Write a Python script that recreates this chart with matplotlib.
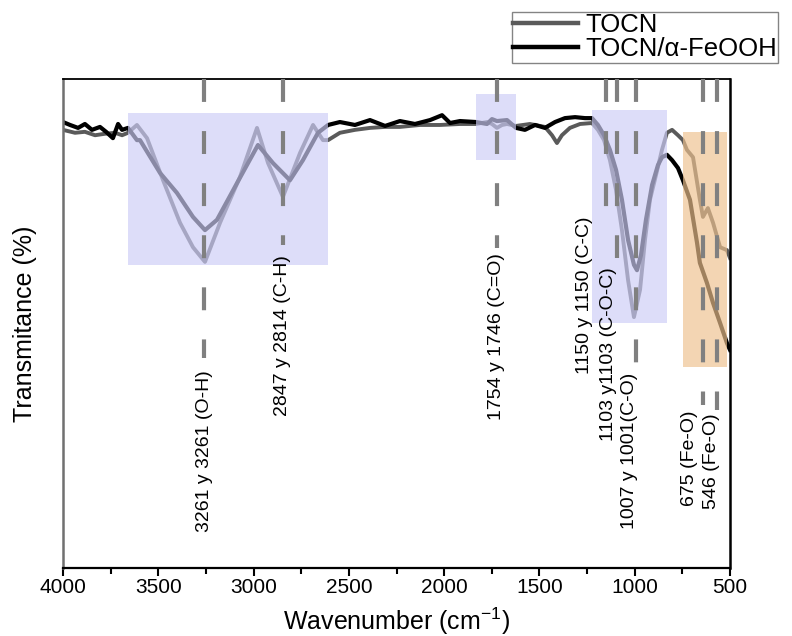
import matplotlib
matplotlib.use("Agg")
import matplotlib.pyplot as plt
from matplotlib.patches import Rectangle

plt.rcParams['font.family'] = ['Liberation Sans', 'DejaVu Sans']
plt.rcParams['mathtext.fontset'] = 'custom'
plt.rcParams['mathtext.rm'] = 'Liberation Sans'
plt.rcParams['mathtext.it'] = 'Liberation Sans'

# ---- data (wavenumber cm-1, transmittance in arbitrary %) ----
wn_tocn = [4000, 3937, 3885, 3832, 3780, 3727, 3690, 3659, 3612, 3559, 3475, 3386, 3318, 3255,
           3176, 3071, 2982, 2924, 2846, 2756, 2688, 2636, 2609, 2547, 2468, 2389, 2310, 2232,
           2127, 2022, 1917, 1833, 1775, 1749, 1723, 1696, 1670, 1623, 1550, 1471, 1434, 1408,
           1382, 1340, 1287, 1224, 1193, 1161, 1130, 1098, 1067, 1035, 1004, 972, 946, 920, 888,
           857, 831, 804, 773, 747, 726, 694, 658, 642, 616, 589, 552, 516, 500]
t_tocn = [89.6, 89.0, 89.2, 88.5, 88.8, 89.0, 88.5, 89.0, 90.6, 87.9, 79.3, 70.6, 65.6, 62.6,
          70.6, 80.0, 90.0, 82.8, 75.9, 84.9, 90.6, 87.5, 87.5, 89.0, 89.6, 90.0, 90.2, 90.2,
          90.6, 90.6, 90.8, 90.8, 91.2, 90.8, 90.0, 90.6, 90.8, 90.4, 90.8, 90.2, 88.5, 86.9,
          88.5, 90.0, 90.8, 91.0, 89.6, 87.5, 83.4, 77.3, 69.1, 58.9, 51.3, 56.9, 67.1, 75.3, 80.4,
          85.5, 89.0, 89.6, 88.5, 87.5, 85.5, 84.0, 75.3, 71.8, 73.6, 70.6, 65.6, 65.0, 63.4]

wn_feooh = [4000, 3963, 3921, 3885, 3848, 3806, 3774, 3738, 3711, 3690, 3659, 3612, 3596, 3491,
            3402, 3318, 3255, 3192, 3087, 2977, 2898, 2809, 2741, 2662, 2609, 2547, 2468, 2389,
            2310, 2232, 2153, 2074, 2011, 1969, 1917, 1833, 1775, 1749, 1723, 1670, 1623, 1576,
            1523, 1471, 1418, 1366, 1313, 1261, 1224, 1193, 1161, 1130, 1098, 1067, 1035, 1004,
            988, 967, 941, 909, 878, 857, 831, 804, 773, 747, 710, 673, 658, 621, 589, 552, 516, 500]
t_feooh = [91.2, 90.6, 90.0, 90.8, 89.6, 90.2, 89.2, 87.9, 90.8, 89.6, 90.0, 87.5, 87.5, 80.8,
           76.7, 71.8, 69.1, 71.2, 78.7, 86.5, 82.8, 79.3, 83.4, 89.0, 90.6, 91.2, 90.6, 91.6,
           90.4, 91.4, 90.8, 91.6, 92.6, 91.0, 91.4, 91.2, 90.8, 91.8, 91.4, 91.6, 90.0, 89.6,
           90.6, 90.0, 91.2, 92.0, 92.2, 92.0, 92.0, 90.6, 88.5, 85.5, 81.4, 75.3, 67.1, 62.0,
           60.9, 64.0, 71.2, 78.3, 82.4, 84.0, 84.5, 83.4, 81.8, 79.3, 75.3, 66.5, 62.4, 58.3,
           54.2, 50.1, 46.0, 44.6]

series_labels = ['TOCN', 'TOCN/α-FeOOH']

# highlighted regions: (wn_high, wn_low, t_low, t_high)
box_wn_high = [3659, 1833, 1224, 747]
box_wn_low = [2609, 1623, 831, 516]
box_t_low = [62.0, 83.4, 50.1, 41.1]
box_t_high = [93.0, 96.9, 93.7, 89.2]
box_kind = ['blue', 'blue', 'blue', 'orange']

# band marker lines: position and where the dashes stop
band_wn = [3261, 2846, 1723, 1150, 1095, 995, 640, 568]
band_end_t = [42.9, 66.1, 65.5, 73.2, 63.4, 41.9, 33.3, 32.3]

# band labels
label_text = ['3261 y 3261 (O-H)', '2847 y 2814 (C-H)', '1754 y 1746 (C=O)',
              '1150 y 1150 (C-C)', '1103 y1103 (C-O-C)', '1007 y 1001(C-O)',
              '675 (Fe-O)', '546 (Fe-O)']
label_wn = [3255, 2846, 1723, 1266, 1135, 1025, 715, 595]
label_top_t = [40.5, 64.0, 64.4, 71.8, 61.6, 39.9, 32.3, 31.7]

xticks = [4000, 3500, 3000, 2500, 2000, 1500, 1000, 500]

# ---- figure ----
fig = plt.figure(figsize=(7.92, 6.36), dpi=100)
ax = fig.add_axes([63/792, 1-568/636, (730-63)/792, (568-79)/636])

ax.plot(wn_tocn, t_tocn, color='#5a5a5a', lw=2.8, zorder=2, label=series_labels[0],
        solid_joinstyle='round')
ax.plot(wn_feooh, t_feooh, color='#000000', lw=3.0, zorder=2.1, label=series_labels[1],
        solid_joinstyle='round')

colors = {'blue': (205/255, 205/255, 247/255, 0.67),
          'orange': (238/255, 193/255, 142/255, 0.67)}
for xh, xl, yl, yh, k in zip(box_wn_high, box_wn_low, box_t_low, box_t_high, box_kind):
    ax.add_patch(Rectangle((xl, yl), xh - xl, yh - yl, facecolor=colors[k],
                           edgecolor='none', zorder=3))

for w, e in zip(band_wn, band_end_t):
    ax.plot([w, w], [100, e], color='#808080', lw=3, linestyle=(0, (5.5, 7)),
            solid_capstyle='butt', dash_capstyle='butt', zorder=4)

for txt, w, t in zip(label_text, label_wn, label_top_t):
    ax.text(w, t, txt, rotation=90, ha='center', va='top', fontsize=14, zorder=5)

ax.set_xlim(4000, 500)
ax.set_ylim(0, 100)
ax.set_xticks(xticks)
ax.set_xticks([x - 250 for x in xticks[:-1]], minor=True)
ax.set_yticks([])
ax.tick_params(axis='x', which='major', direction='out', length=6, width=1.5,
               labelsize=15, pad=1.5)
ax.tick_params(axis='x', which='minor', direction='out', length=4, width=1.5)
for s in ['top', 'right', 'bottom']:
    ax.spines[s].set_color('black')
ax.spines['bottom'].set_linewidth(1.6)
ax.spines['right'].set_linewidth(1.8)
ax.spines['top'].set_linewidth(1.3)
ax.spines['left'].set_color('#707070')
ax.spines['left'].set_linewidth(1.8)

ax.set_xlabel('Wavenumber (cm$^{-1}$)', fontsize=18, labelpad=6)
ax.set_ylabel('Transmitance (%)', fontsize=18, labelpad=19)

leg = fig.legend(loc='upper left', bbox_to_anchor=(512/792, 1 - 12/636),
                 borderaxespad=0, fontsize=18.5, frameon=True, fancybox=False,
                 edgecolor='#666666', handlelength=2.5, handletextpad=0.3,
                 borderpad=0.05, labelspacing=0.0)
leg.get_frame().set_linewidth(1.0)
for line in leg.get_lines():
    line.set_linewidth(3.2)

fig.savefig('out.png', dpi=100)
